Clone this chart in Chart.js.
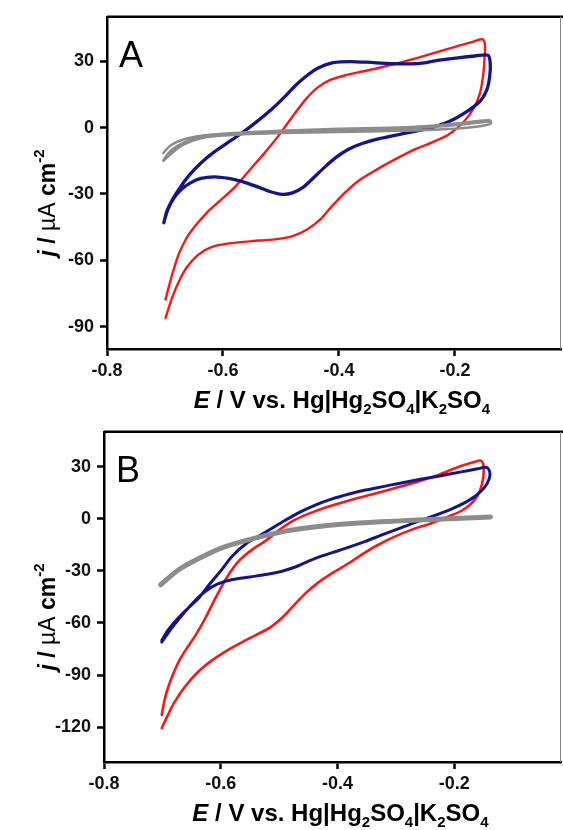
<!DOCTYPE html>
<html>
<head>
<meta charset="utf-8">
<script src="https://cdn.jsdelivr.net/npm/chart.js@4.4.1/dist/chart.umd.min.js"></script>
<style>
  html, body { margin: 0; padding: 0; background: #fff; }
  #wrap { position: relative; width: 563px; height: 830px; }
  canvas { position: absolute; left: 0; }
</style>
</head>
<body>
<div id="wrap">
  <canvas id="chartA" width="563" height="415" style="top:0px"></canvas>
  <canvas id="chartB" width="563" height="415" style="top:415px"></canvas>
</div>
<script>
// MARK: Data (E in V vs. Hg|Hg2SO4|K2SO4, j in uA cm-2)

const xTickValues = [-0.8, -0.6, -0.4, -0.2];
const yTicksA = [-90, -60, -30, 0, 30];
const yTicksB = [-120, -90, -60, -30, 0, 30];

// panel A
const grayA_E = [-0.703, -0.690, -0.670, -0.640, -0.600, -0.500, -0.400, -0.300, -0.240, -0.180, -0.140,
  -0.138, -0.160, -0.200, -0.300, -0.400, -0.500, -0.600, -0.640, -0.670, -0.690, -0.703,
  -0.690, -0.670, -0.640, -0.600, -0.500, -0.400, -0.300, -0.240, -0.180, -0.140];
const grayA_j = [-11.5, -8, -5.5, -3.8, -2.8, -1.5, -0.6, 0, 0.8, 2.3, 3.3,
  1.8, 0.5, -0.5, -1.5, -2, -2.5, -3.5, -5, -8, -12, -15,
  -10.5, -7, -4.8, -3.6, -2.2, -1.3, -0.6, 0.2, 1.6, 2.8];

const blueA_E = [-0.702, -0.697, -0.688, -0.675, -0.658, -0.638, -0.615, -0.590, -0.565, -0.540, -0.515, -0.495,
  -0.475, -0.455, -0.435, -0.410, -0.380, -0.340, -0.300, -0.260, -0.230, -0.195, -0.165, -0.143,
  -0.139, -0.140, -0.145, -0.156, -0.177, -0.200, -0.225, -0.255, -0.293, -0.330, -0.360, -0.385,
  -0.405, -0.425, -0.445, -0.462, -0.480, -0.498, -0.518, -0.540, -0.565, -0.590, -0.615, -0.638,
  -0.656, -0.672, -0.685, -0.695, -0.700, -0.702];
const blueA_j = [-43, -38, -33, -27.5, -21.5, -16, -11, -6.5, -2, 3, 8.5, 13.5,
  19, 23.5, 27, 29.3, 29.8, 29.3, 28.8, 29, 30.3, 31.5, 32.3, 32.6,
  29, 23, 17, 12, 7.6, 4, 1.2, -1, -3, -5, -7.2, -10,
  -13.5, -18, -23, -27, -29.5, -30.2, -29, -26.8, -24.5, -23, -22.3, -23,
  -25, -28, -32, -37, -41, -43];

const redA_E = [-0.699, -0.693, -0.686, -0.676, -0.663, -0.648, -0.628, -0.605, -0.580, -0.555, -0.530, -0.505,
  -0.480, -0.458, -0.437, -0.415, -0.390, -0.360, -0.330, -0.293, -0.260, -0.225, -0.193, -0.168, -0.152,
  -0.148, -0.149, -0.151, -0.157, -0.168, -0.185, -0.210, -0.240, -0.270, -0.304, -0.335, -0.366,
  -0.390, -0.412, -0.432, -0.455, -0.480, -0.510, -0.550, -0.590, -0.620, -0.643, -0.662, -0.675,
  -0.688, -0.699];
const redA_j = [-77.7, -71.5, -65, -57, -50, -44.5, -38.5, -33, -27, -19.5, -12, -4,
  5, 12.5, 18, 21.5, 23.5, 25.3, 27, 29.4, 31.8, 34.5, 37, 38.8, 39.8,
  37, 31, 24, 15.3, 8.5, 2.5, -3, -6.8, -10, -14.5, -19, -24,
  -29.5, -35.5, -41.5, -46, -49, -50.5, -51.3, -52.3, -54, -57.5, -63, -69,
  -77, -86];

// panel B
const grayB_E = [-0.703, -0.672, -0.635, -0.598, -0.548, -0.487, -0.425, -0.363, -0.302, -0.240, -0.178, -0.138];
const grayB_j = [-38, -29.4, -22.5, -16.8, -11.8, -7, -4.2, -2.5, -1.4, -0.5, 0.4, 1];

const blueB_E = [-0.701, -0.690, -0.675, -0.656, -0.636, -0.620, -0.600, -0.580, -0.555, -0.522, -0.495, -0.466,
  -0.437, -0.409, -0.380, -0.352, -0.320, -0.295, -0.260, -0.225, -0.190, -0.160, -0.145,
  -0.139, -0.140, -0.148, -0.162, -0.180, -0.205, -0.240, -0.270, -0.295, -0.325, -0.352, -0.395,
  -0.437, -0.470, -0.495, -0.520, -0.550, -0.580, -0.605, -0.625, -0.645, -0.665, -0.684, -0.701];
const blueB_j = [-70, -64, -58, -51.5, -45, -38, -30, -21.5, -14, -7.5, -2, 3.5,
  8, 11.4, 14.2, 16.5, 18.6, 20.3, 22.5, 24.6, 26.8, 28.7, 29.6,
  27, 23, 18, 13.5, 9.5, 5.5, 1, -2.5, -5.7, -9.5, -13, -18,
  -22.7, -27.5, -30.2, -32, -33.5, -35, -37.5, -41.5, -47.5, -55, -63, -71];

const redB_E = [-0.701, -0.696, -0.690, -0.681, -0.670, -0.657, -0.643, -0.626, -0.608, -0.588, -0.568, -0.545,
  -0.522, -0.500, -0.478, -0.450, -0.420, -0.380, -0.340, -0.295, -0.260, -0.225, -0.195, -0.172, -0.155,
  -0.150, -0.150, -0.156, -0.167, -0.185, -0.210, -0.240, -0.270, -0.300, -0.330, -0.355, -0.380,
  -0.409, -0.432, -0.454, -0.475, -0.495, -0.515, -0.540, -0.563, -0.590, -0.615, -0.640, -0.662,
  -0.680, -0.692, -0.701];
const redB_j = [-112.9, -104, -97, -89, -81, -74, -67, -57, -45, -33, -24, -17.5,
  -12.5, -6.5, -1.5, 2.8, 6.5, 10.5, 14, 18.2, 21.5, 25.5, 29.5, 32, 33.5,
  31, 24, 16, 10, 5, 1.2, -2.8, -6, -10, -15, -20, -25.5,
  -31.3, -36.5, -42.7, -50, -57, -62.5, -67, -71, -76, -81.5, -88.5, -97,
  -106, -114, -120.5];

// MARK: Helpers

const FONT = '"Liberation Sans", Arial, Helvetica, sans-serif';

const xTitle = [
  { text: 'E', italic: true },
  { text: ' / V vs. Hg|Hg' },
  { text: '2', sub: true },
  { text: 'SO' },
  { text: '4', sub: true },
  { text: '|K' },
  { text: '2', sub: true },
  { text: 'SO' },
  { text: '4', sub: true },
];
const yTitle = [
  { text: 'j', italic: true },
  { text: ' / ' },
  { text: '\u00b5A', light: true },
  { text: ' cm' },
  { text: '-2', sup: true },
];

function segFont(s, size) {
  const sz = (s.sub || s.sup) ? Math.round(size * 0.64) : size;
  const weight = s.light ? 'normal' : 'bold';
  return (s.italic ? 'italic ' : '') + weight + ' ' + sz + 'px ' + FONT;
}

function drawRich(ctx, segs, x, y, size) {
  let total = 0;
  segs.forEach(s => { ctx.font = segFont(s, size); s.w = ctx.measureText(s.text).width; total += s.w; });
  let cx = x - total / 2;
  segs.forEach(s => {
    ctx.font = segFont(s, size);
    const dy = s.sub ? size * 0.24 : s.sup ? -size * 0.5 : 0;
    ctx.fillText(s.text, cx, y + dy);
    cx += s.w;
  });
}

const frameAndLabels = {
  id: 'frameAndLabels',
  afterDraw(chart, args, opts) {
    const { ctx, chartArea: a, scales } = chart;
    ctx.save();
    ctx.strokeStyle = '#000';
    ctx.lineWidth = 2.5;
    ctx.beginPath();
    ctx.moveTo(a.left, a.top);
    ctx.lineTo(chart.width, a.top);
    ctx.stroke();
    ctx.lineWidth = 1;
    ctx.strokeStyle = '#888';
    ctx.beginPath();
    ctx.moveTo(a.right - 0.5, a.top);
    ctx.lineTo(a.right - 0.5, a.bottom);
    ctx.stroke();

    ctx.fillStyle = '#000';
    ctx.textAlign = 'left';
    ctx.textBaseline = 'alphabetic';
    ctx.font = '36px ' + FONT;
    ctx.fillText(opts.letter, a.left + 12, a.top + 50);

    drawRich(ctx, xTitle, scales.x.getPixelForValue(-0.4) + 3, a.bottom + 59, 24);

    ctx.translate(55, (a.top + a.bottom) / 2 + 20);
    ctx.rotate(-Math.PI / 2);
    drawRich(ctx, yTitle, 0, 0, 23);
    ctx.restore();
  }
};

function series(es, js) {
  return es.map((e, i) => ({ x: e, y: js[i] }));
}

function line(es, js, color, width) {
  return {
    data: series(es, js),
    showLine: true,
    borderColor: color,
    borderWidth: width,
    pointRadius: 0,
    tension: 0.3,
    borderJoinStyle: 'round',
    borderCapStyle: 'round',
    fill: false,
  };
}

function makeChart(id, cfg) {
  const tickFont = { family: FONT, size: 18, weight: 'bold' };
  return new Chart(document.getElementById(id), {
    type: 'scatter',
    data: { datasets: cfg.datasets },
    options: {
      responsive: false,
      animation: false,
      layout: { padding: { left: 0, top: cfg.top, right: 2, bottom: 0 } },
      plugins: {
        legend: { display: false },
        tooltip: { enabled: false },
        frameAndLabels: { letter: cfg.letter },
      },
      scales: {
        x: {
          type: 'linear',
          min: -0.8,
          max: -0.017,
          afterFit: s => { s.height = cfg.xHeight; },
          afterBuildTicks: s => { s.ticks = xTickValues.map(v => ({ value: v })); },
          grid: { drawOnChartArea: false, drawTicks: true, tickLength: 7, tickWidth: 2.5, tickColor: '#000' },
          border: { display: true, color: '#000', width: 2.5 },
          ticks: { font: tickFont, color: '#111', padding: 4, maxRotation: 0, callback: v => v.toFixed(1) },
        },
        y: {
          type: 'linear',
          min: cfg.yMin,
          max: 50,
          afterFit: s => { s.width = cfg.yWidth; },
          afterBuildTicks: s => { s.ticks = cfg.yTicks.map(v => ({ value: v })); },
          grid: { drawOnChartArea: false, drawTicks: true, tickLength: 7, tickWidth: 2.5, tickColor: '#000' },
          border: { display: true, color: '#000', width: 2.5 },
          ticks: { font: tickFont, color: '#111', padding: 6, callback: v => String(v) },
        },
      },
    },
    plugins: [frameAndLabels],
  });
}

const GRAY = '#8c8c8c';
const BLUE = '#14148c';
const RED = '#ff1414';

makeChart('chartA', {
  letter: 'A',
  top: 16,
  xHeight: 66,
  yWidth: 107,
  yMin: -100,
  yTicks: yTicksA,
  datasets: [
    line(grayA_E, grayA_j, GRAY, 2.5),
    line(blueA_E, blueA_j, BLUE, 3.3),
    line(redA_E, redA_j, RED, 2.4),
  ],
});

makeChart('chartB', {
  letter: 'B',
  top: 12,
  xHeight: 68,
  yWidth: 104,
  yMin: -140,
  yTicks: yTicksB,
  datasets: [
    line(grayB_E, grayB_j, GRAY, 5),
    line(blueB_E, blueB_j, BLUE, 3),
    line(redB_E, redB_j, RED, 2.6),
  ],
});
</script>
</body>
</html>
